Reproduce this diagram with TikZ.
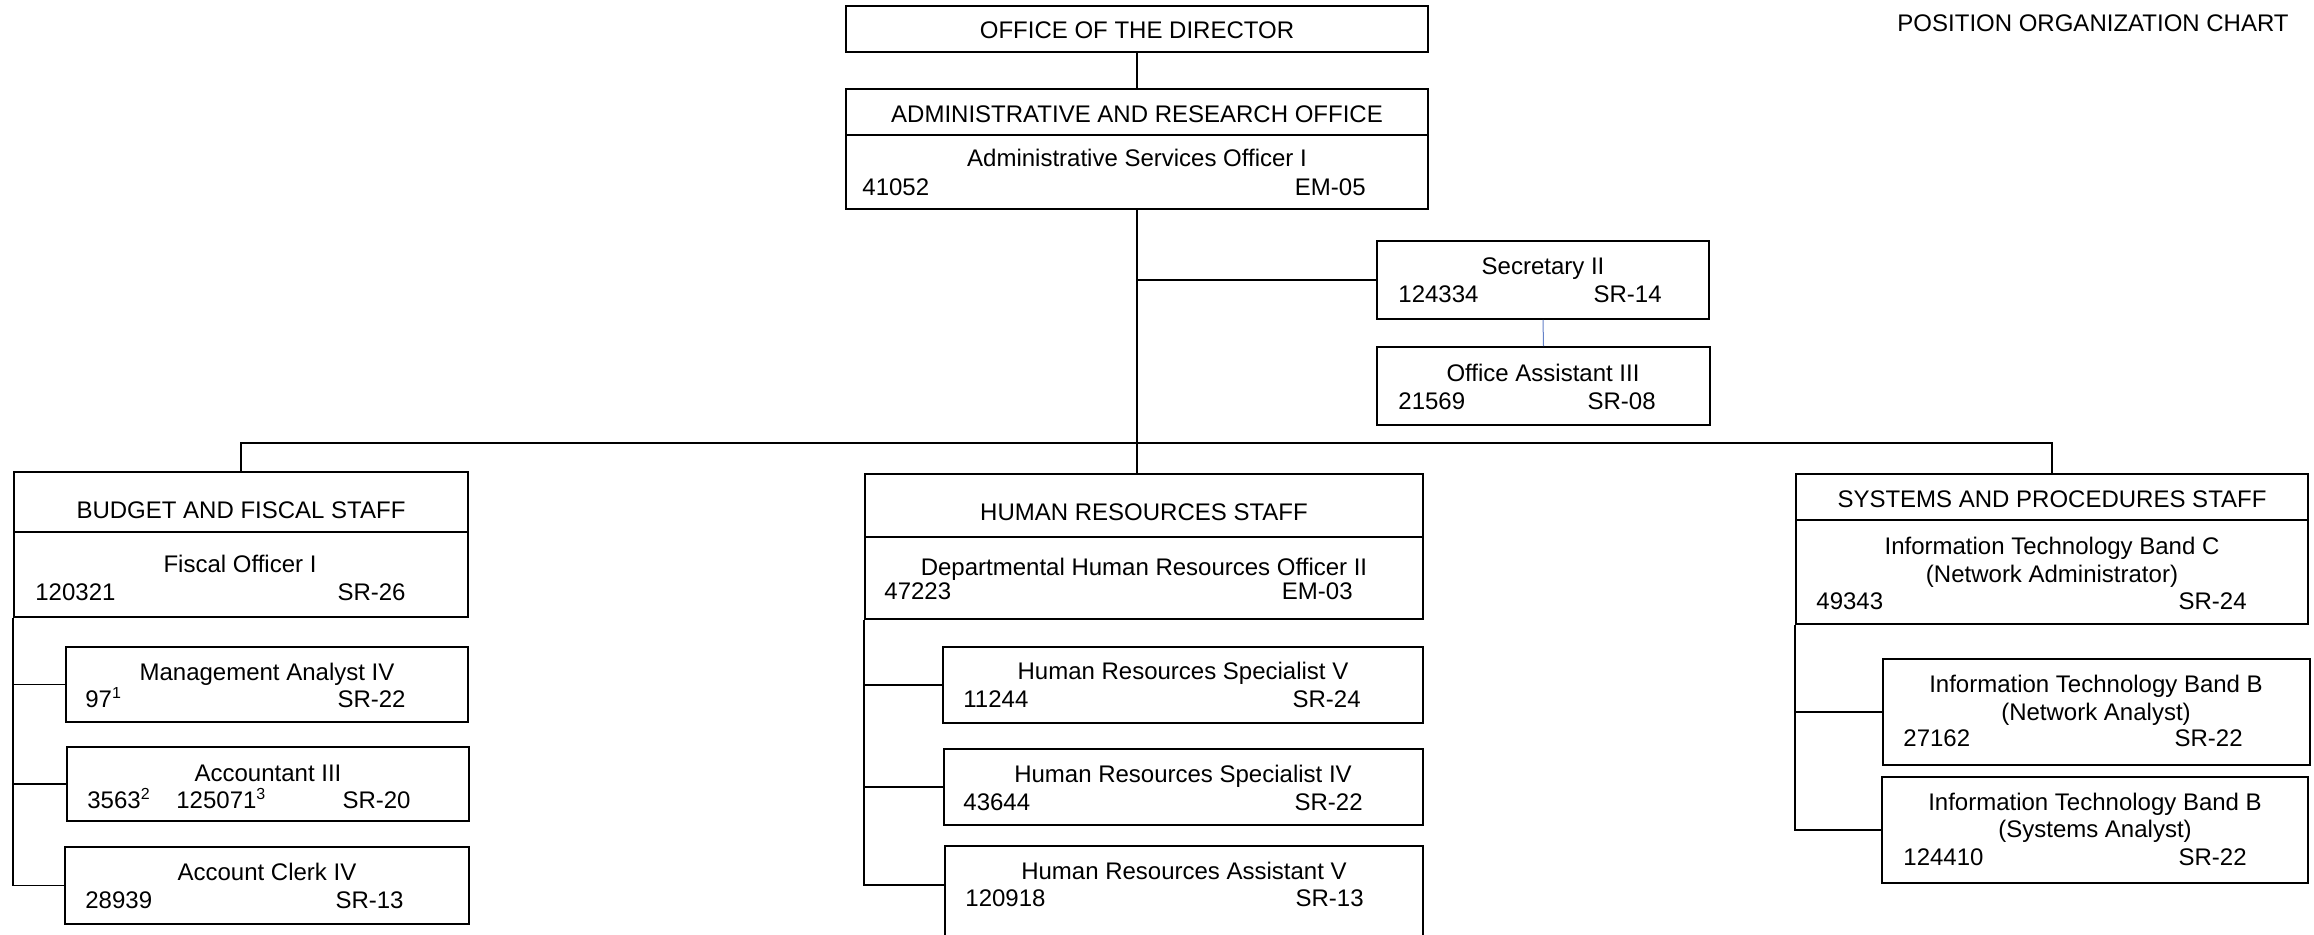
\documentclass[tikz,border=0pt]{standalone}
\usepackage{fontspec}
\setmainfont{Liberation Sans}
\definecolor{linkblue}{RGB}{100,130,200}
\begin{document}
\begin{tikzpicture}[x=0.5pt,y=-0.5pt,
  box/.style={draw=black, line width=0.9pt, rectangle, inner sep=0pt, fill=white},
  txt/.style={font=\fontsize{12}{14}\selectfont, inner sep=0pt, anchor=base},
  lft/.style={txt, anchor=base west},
  rgt/.style={txt, anchor=base east},
  link/.style={draw=black, line width=0.9pt}]
\useasboundingbox (0,0) rectangle (2314,934);
\clip (0,0) rectangle (2314,934);
\fill[white] (0,0) rectangle (2314,934);

% ---------- boxes ----------
\node[box, minimum width=291pt, minimum height=23pt] (dir) at (1137,29) {};
\node[box, minimum width=291pt, minimum height=23pt] (admh) at (1137,112) {};
\node[box, minimum width=291pt, minimum height=37pt] (admp) at (1137,172) {};
\node[box, minimum width=166pt, minimum height=39pt] (sec) at (1543,280) {};
\node[box, minimum width=166.5pt, minimum height=39pt] (oa) at (1543.5,386) {};

\node[box, minimum width=227pt, minimum height=30pt] (budh) at (241,502) {};
\node[box, minimum width=227pt, minimum height=42.5pt] (budp) at (241,574.5) {};
\node[box, minimum width=201pt, minimum height=37.5pt] (ma) at (267,684.5) {};
\node[box, minimum width=201pt, minimum height=37pt] (acc) at (268,784) {};
\node[box, minimum width=202pt, minimum height=38.5pt] (clk) at (267,885.5) {};

\node[box, minimum width=279pt, minimum height=31.5pt] (hrh) at (1144,505.5) {};
\node[box, minimum width=279pt, minimum height=41pt] (hrp) at (1144,578) {};
\node[box, minimum width=240pt, minimum height=38pt] (hrs5) at (1183,685) {};
\node[box, minimum width=239.5pt, minimum height=38pt] (hrs4) at (1183.5,787) {};
\node[box, minimum width=239pt, minimum height=58pt] (hra5) at (1184,904) {};

\node[box, minimum width=256pt, minimum height=23pt] (sph) at (2052,497) {};
\node[box, minimum width=256pt, minimum height=52pt] (spp) at (2052,572) {};
\node[box, minimum width=213.5pt, minimum height=53pt] (itb1) at (2096.5,712) {};
\node[box, minimum width=213pt, minimum height=53pt] (itb2) at (2095,830) {};

% ---------- connectors ----------
\coordinate (bus) at (1137,443);
\draw[link] (dir.south) -- (admh.north);
\draw[link] (admp.south) -- (admp.south |- hrh.north);
\draw[link] (sec.west) -- (sec.west -| admp.south);
\draw[draw=linkblue, line width=0.5pt] (sec.south) -- (oa.north);
\draw[link] (budh.north) |- (bus) -| (sph.north);

\draw[link] (budp.south west) |- (ma.west);
\draw[link] (budp.south west) |- (acc.west);
\draw[link] (budp.south west) |- (clk.west);

\coordinate (hraj) at (945,885);
\draw[link] (hrp.south west) |- (hrs5.west);
\draw[link] (hrp.south west) |- (hrs4.west);
\draw[link] (hrp.south west) |- (hraj);

\draw[link] (spp.south west) |- (itb1.west);
\draw[link] (spp.south west) |- (itb2.west);

% ---------- texts ----------
\node[rgt] (title) at (2289,31) {POSITION ORGANIZATION CHART};

\node[txt] (tdir) at (1137,38) {OFFICE OF THE DIRECTOR};
\node[txt] (tadmh) at (1137,122) {ADMINISTRATIVE AND RESEARCH OFFICE};
\node[txt] (tadm1) at (1137,166) {Administrative Services Officer I};
\node[lft] (tadm2) at (862,195) {41052};
\node[rgt] (tadm3) at (1366,195) {EM-05};

\node[txt] (tsec1) at (1543,274) {Secretary II};
\node[lft] (tsec2) at (1398,302) {124334};
\node[rgt] (tsec3) at (1662,302) {SR-14};

\node[txt] (toa1) at (1543,381) {Office Assistant III};
\node[lft] (toa2) at (1398,409) {21569};
\node[rgt] (toa3) at (1656,409) {SR-08};

\node[txt] (tbudh) at (241,518) {BUDGET AND FISCAL STAFF};
\node[txt] (tbud1) at (240,572) {Fiscal Officer I};
\node[lft] (tbud2) at (35,600) {120321};
\node[rgt] (tbud3) at (406,600) {SR-26};

\node[txt] (tma1) at (267,680) {Management Analyst IV};
\node[lft] (tma2) at (85,707) {97\textsuperscript{1}};
\node[rgt] (tma3) at (406,707) {SR-22};

\node[txt] (tacc1) at (268,781) {Accountant III};
\node[lft] (tacc2) at (87,808) {3563\textsuperscript{2}};
\node[lft] (tacc3) at (176,808) {125071\textsuperscript{3}};
\node[rgt] (tacc4) at (411,808) {SR-20};

\node[txt] (tclk1) at (267,880) {Account Clerk IV};
\node[lft] (tclk2) at (85,908) {28939};
\node[rgt] (tclk3) at (404,908) {SR-13};

\node[txt] (thrh) at (1144,520) {HUMAN RESOURCES STAFF};
\node[txt] (thr1) at (1144,575) {Departmental Human Resources Officer II};
\node[lft] (thr2) at (884,599) {47223};
\node[rgt] (thr3) at (1353,599) {EM-03};

\node[txt] (ths51) at (1183,679) {Human Resources Specialist V};
\node[lft] (ths52) at (963,707) {11244};
\node[rgt] (ths53) at (1361,707) {SR-24};

\node[txt] (ths41) at (1183,782) {Human Resources Specialist IV};
\node[lft] (ths42) at (963,810) {43644};
\node[rgt] (ths43) at (1363,810) {SR-22};

\node[txt] (tha1) at (1184,879) {Human Resources Assistant V};
\node[lft] (tha2) at (965,906) {120918};
\node[rgt] (tha3) at (1364,906) {SR-13};

\node[txt] (tsph) at (2052,507) {SYSTEMS AND PROCEDURES STAFF};
\node[txt] (tsp1) at (2052,554) {Information Technology Band C};
\node[txt] (tsp2) at (2052,582) {(Network Administrator)};
\node[lft] (tsp3) at (1816,609) {49343};
\node[rgt] (tsp4) at (2247,609) {SR-24};

\node[txt] (ti11) at (2096,692) {Information Technology Band B};
\node[txt] (ti12) at (2096,720) {(Network Analyst)};
\node[lft] (ti13) at (1903,746) {27162};
\node[rgt] (ti14) at (2243,746) {SR-22};

\node[txt] (ti21) at (2095,810) {Information Technology Band B};
\node[txt] (ti22) at (2095,837) {(Systems Analyst)};
\node[lft] (ti23) at (1903,865) {124410};
\node[rgt] (ti24) at (2247,865) {SR-22};
\end{tikzpicture}
\end{document}
